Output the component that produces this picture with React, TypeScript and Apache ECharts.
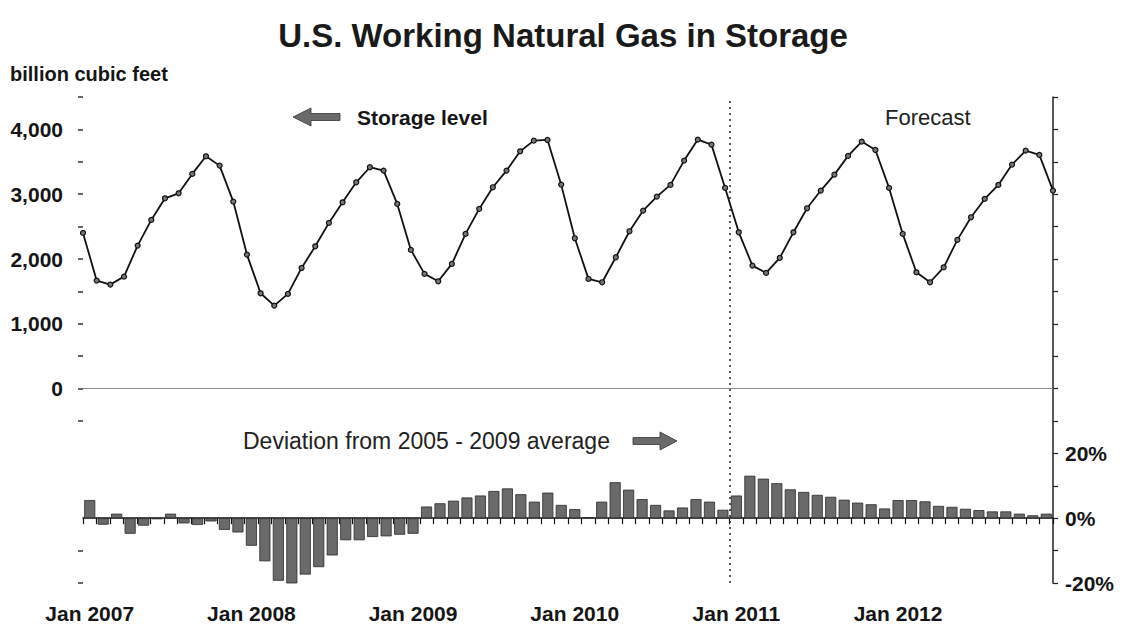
import React, { useEffect, useRef } from "react";
import * as echarts from "echarts";

const MONTHS = ["Jan", "Feb", "Mar", "Apr", "May", "Jun", "Jul", "Aug", "Sep", "Oct", "Nov", "Dec"];
const YEARS = [2007, 2008, 2009, 2010, 2011, 2012];
const categories: string[] = [];
YEARS.forEach((y) => MONTHS.forEach((m) => categories.push(`${m} ${y}`)));

// Working gas in storage, billion cubic feet
const storageLevel = [
  2403, 1667, 1605, 1728, 2207, 2603, 2937, 3014, 3313, 3585, 3441, 2886,
  2068, 1471, 1281, 1461, 1862, 2196, 2557, 2875, 3184, 3416, 3364, 2850,
  2140, 1770, 1656, 1924, 2387, 2773, 3107, 3364, 3662, 3827, 3837, 3148,
  2320, 1693, 1641, 2027, 2428, 2747, 2963, 3143, 3519, 3843, 3765, 3097,
  2412, 1898, 1785, 2017, 2412, 2783, 3056, 3302, 3591, 3812, 3683, 3097,
  2387, 1795, 1641, 1872, 2295, 2644, 2927, 3143, 3457, 3673, 3606, 3056,
];

// Deviation from 2005-2009 average, percent
const deviation = [
  5.6, -2.0, 1.4, -4.8, -2.3, -0.3, 1.4, -1.6, -2.1, -1.0, -3.6, -4.4,
  -8.5, -13.3, -19.3, -20.2, -17.4, -15.1, -11.5, -6.8, -6.8, -5.8, -5.6, -5.1,
  -4.8, 3.6, 4.6, 5.4, 6.4, 7.0, 8.4, 9.2, 7.4, 5.1, 7.9, 4.1,
  2.8, 0.3, 5.1, 11.1, 8.8, 5.9, 4.1, 2.4, 3.3, 5.9, 5.1, 2.6,
  7.0, 13.1, 12.2, 10.8, 8.9, 8.1, 7.2, 6.6, 5.7, 4.8, 4.3, 3.0,
  5.6, 5.6, 5.2, 3.8, 3.5, 2.9, 2.5, 2.1, 2.1, 1.4, 0.9, 1.4,
];

const leftTicks = [-3000, -2500, -500, 0, 500, 1000, 1500, 2000, 2500, 3000, 3500, 4000, 4500];
const leftLabels = [0, 1000, 2000, 3000, 4000];
const rightLabels = [-20, 0, 20];
const forecastStartIndex = 48; // Jan 2011

const FONT = "'Liberation Sans', Arial, sans-serif";

export default function App() {
  const ref = useRef<HTMLDivElement>(null);
  useEffect(() => {
    if (!ref.current) return;
    const chart = echarts.init(ref.current, undefined, { renderer: "svg" });
    chart.setOption({
      animation: false,
      backgroundColor: "#ffffff",
      textStyle: { fontFamily: FONT },
      title: {
        text: "U.S. Working Natural Gas in Storage",
        left: "center",
        top: 14,
        textStyle: { fontFamily: FONT, fontSize: 33, fontWeight: "bold", color: "#1a1a1a" },
      },
      grid: { left: 83, right: 73, top: 97, bottom: 52, containLabel: false },
      xAxis: [
        {
          type: "category",
          data: categories,
          boundaryGap: false,
          show: false,
        },
        {
          type: "category",
          data: categories,
          boundaryGap: true,
          position: "bottom",
          axisLine: { show: false, onZero: false },
          axisTick: { show: false },
          axisLabel: {
            interval: (i: number) => i % 12 === 0,
            margin: 20,
            fontFamily: FONT,
            fontSize: 21,
            fontWeight: "bold",
            color: "#151515",
          },
          splitLine: { show: false },
        },
        {
          type: "category",
          data: categories,
          boundaryGap: true,
          position: "bottom",
          axisLine: { show: true, onZero: true, onZeroAxisIndex: 1, lineStyle: { color: "#111", width: 1.5 } },
          axisTick: { show: true, interval: 0, length: 6, lineStyle: { color: "#111", width: 1.2 } },
          axisLabel: { show: false },
          splitLine: { show: false },
        },
        {
          type: "value",
          min: 0,
          max: categories.length,
          show: false,
          position: "top",
          splitLine: { show: false },
        },
      ],
      yAxis: [
        {
          type: "value",
          min: -3000,
          max: 4500,
          interval: 500,
          position: "left",
          axisLine: { show: false },
          axisTick: { show: true, length: 5, customValues: leftTicks, lineStyle: { color: "#333", width: 1.5 } },
          axisLabel: {
            customValues: leftLabels,
            margin: 20,
            formatter: (v: number) => v.toLocaleString("en-US"),
            fontFamily: FONT,
            fontSize: 21,
            fontWeight: "bold",
            color: "#151515",
          },
          splitLine: { show: false },
        },
        {
          type: "value",
          min: -20,
          max: 130,
          interval: 10,
          position: "right",
          axisLine: { show: true, lineStyle: { color: "#222", width: 1.5 } },
          axisTick: { show: true, length: 5, lineStyle: { color: "#222", width: 1.2 } },
          axisLabel: {
            customValues: rightLabels,
            margin: 12,
            formatter: (v: number) => `${v}%`,
            fontFamily: FONT,
            fontSize: 21,
            fontWeight: "bold",
            color: "#151515",
          },
          splitLine: { show: false },
        },
      ],
      series: [
        {
          name: "Deviation",
          type: "bar",
          xAxisIndex: 2,
          yAxisIndex: 1,
          data: deviation,
          barCategoryGap: "18%",
          itemStyle: { color: "#6a6a6a", borderColor: "#2a2a2a", borderWidth: 0.8 },
        },
        {
          name: "Forecast divider",
          type: "line",
          xAxisIndex: 3,
          yAxisIndex: 1,
          data: [],
          markLine: {
            silent: true,
            symbol: "none",
            label: { show: false },
            lineStyle: { color: "#222", width: 1.5, type: [2, 4] },
            data: [{ xAxis: forecastStartIndex }],
          },
        },
        {
          name: "Storage level",
          type: "line",
          xAxisIndex: 0,
          yAxisIndex: 0,
          data: storageLevel,
          symbol: "circle",
          symbolSize: 5,
          lineStyle: { color: "#111", width: 1.8 },
          itemStyle: { color: "#777", borderColor: "#111", borderWidth: 1.2 },
          markLine: {
            silent: true,
            symbol: "none",
            label: { show: false },
            lineStyle: { color: "#8c8c8c", width: 1, type: "solid" },
            data: [{ yAxis: 0 }],
          },
        },
      ],
      graphic: [
        {
          type: "text",
          left: 10,
          top: 64,
          style: { text: "billion cubic feet", font: `bold 20px ${FONT}`, fill: "#151515" },
        },
        {
          type: "polygon",
          shape: {
            points: [
              [293, 117], [311, 108], [311, 113.5], [340, 113.5], [340, 120.5], [311, 120.5], [311, 126],
            ],
          },
          style: { fill: "#6a6a6a", stroke: "#333", lineWidth: 0.8 },
        },
        {
          type: "text",
          x: 357,
          y: 117,
          style: { text: "Storage level", font: `bold 21px ${FONT}`, fill: "#151515", verticalAlign: "middle" },
        },
        {
          type: "text",
          x: 885,
          y: 117,
          style: { text: "Forecast", font: `22px ${FONT}`, fill: "#222", verticalAlign: "middle" },
        },
        {
          type: "text",
          x: 243,
          y: 441,
          style: { text: "Deviation from 2005 - 2009 average", font: `23px ${FONT}`, fill: "#222", verticalAlign: "middle" },
        },
        {
          type: "polygon",
          shape: {
            points: [
              [633, 437.5], [660, 437.5], [660, 432], [677, 441], [660, 450], [660, 444.5], [633, 444.5],
            ],
          },
          style: { fill: "#6a6a6a", stroke: "#333", lineWidth: 0.8 },
        },
      ],
    });
    return () => chart.dispose();
  }, []);
  return (
    <div
      ref={ref}
      style={{ position: "fixed", left: 0, top: 0, width: 1126, height: 635, background: "#fff" }}
    />
  );
}
